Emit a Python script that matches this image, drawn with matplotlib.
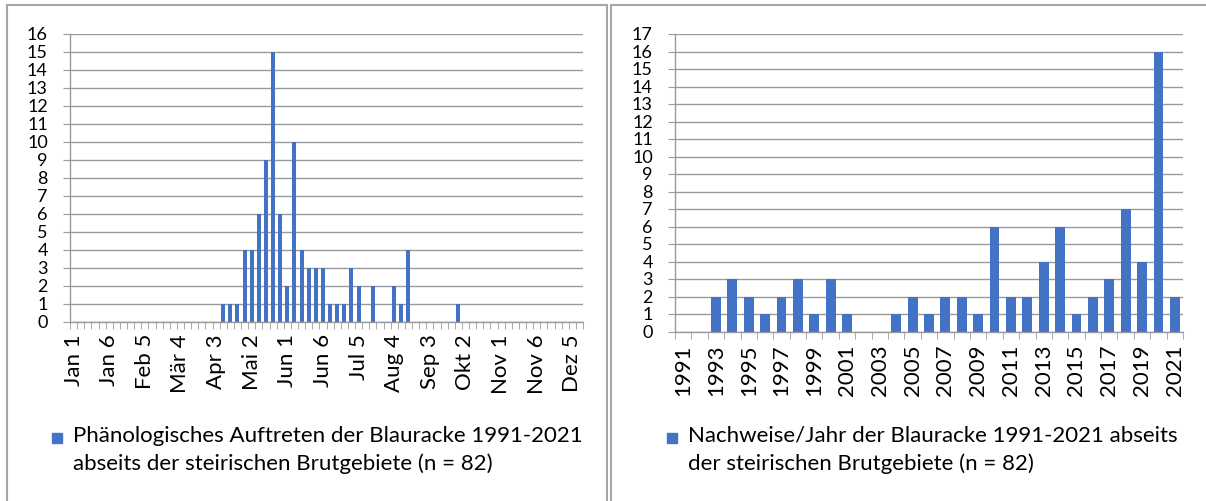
import matplotlib.pyplot as plt
from matplotlib.patches import Rectangle

plt.rcParams['font.family'] = ['Lato', 'DejaVu Sans']

# left chart: occurrences per month pentad (Jan 1 ... Dez 6)
months = ['Jan', 'Feb', 'Mär', 'Apr', 'Mai', 'Jun', 'Jul', 'Aug', 'Sep', 'Okt', 'Nov', 'Dez']
pentads = [1, 2, 3, 4, 5, 6]
pentad_labels = [f'{m} {p}' for m in months for p in pentads]
pentad_counts = [0, 0, 0, 0, 0, 0, 0, 0, 0, 0, 0, 0,
                 0, 0, 0, 0, 0, 0, 0, 0, 0, 1, 1, 1,
                 4, 4, 6, 9, 15, 6, 2, 10, 4, 3, 3, 3,
                 1, 1, 1, 3, 2, 0, 2, 0, 0, 2, 1, 4,
                 0, 0, 0, 0, 0, 0, 1, 0, 0, 0, 0, 0,
                 0, 0, 0, 0, 0, 0, 0, 0, 0, 0, 0, 0]
left_legend = 'Phänologisches Auftreten der Blauracke 1991-2021\nabseits der steirischen Brutgebiete (n = 82)'

# right chart: records per year
years = list(range(1991, 2022))
year_counts = [0, 0, 2, 3, 2, 1, 2, 3, 1, 3, 1, 0, 0, 1, 2, 1,
               2, 2, 1, 6, 2, 2, 4, 6, 1, 2, 3, 7, 4, 16, 2]
right_legend = 'Nachweise/Jahr der Blauracke 1991-2021 abseits\nder steirischen Brutgebiete (n = 82)'

bar_color = '#4472C4'
grid_color = '#9a9a9a'
fs = 16
fs_y = 13

fig = plt.figure(figsize=(12.06, 5.02), dpi=100)

# panel frames
fig.patches.append(Rectangle((7 / 1206, -0.1), 600 / 1206, 1.1 - 6 / 502, transform=fig.transFigure,
                             fill=False, edgecolor='#a6a6a6', lw=1.5))
fig.patches.append(Rectangle((611 / 1206, -0.1), 0.6, 1.1 - 6 / 502, transform=fig.transFigure,
                             fill=False, edgecolor='#a6a6a6', lw=1.5))


def style_axes(ax, n, ymax):
    ax.set_xlim(-0.5, n - 0.5)
    ax.set_ylim(0, ymax)
    ax.set_yticks(range(0, ymax + 1))
    ax.yaxis.grid(True, color=grid_color, lw=1)
    ax.set_axisbelow(True)
    for s in ['top', 'right']:
        ax.spines[s].set_visible(False)
    for s in ['left', 'bottom']:
        ax.spines[s].set_color(grid_color)
        ax.spines[s].set_linewidth(1)
    ax.tick_params(axis='y', length=5, color=grid_color, pad=11, labelsize=fs_y)
    ax.tick_params(axis='x', which='major', length=0, pad=8, labelsize=fs, rotation=90)
    ax.set_xticks([i - 0.5 for i in range(n + 1)], minor=True)
    ax.tick_params(axis='x', which='minor', length=5, color=grid_color)
    for lbl in ax.get_yticklabels():
        lbl.set_verticalalignment('center')


ax1 = fig.add_axes([70 / 1206, 179 / 502, 513 / 1206, 288 / 502])
ax1.bar(range(len(pentad_counts)), pentad_counts, width=0.57, color=bar_color)
style_axes(ax1, len(pentad_counts), 16)
ax1.set_xticks(range(0, len(pentad_labels), 5))
ax1.set_xticklabels(pentad_labels[::5], rotation=90)

ax2 = fig.add_axes([675 / 1206, 169 / 502, 508 / 1206, 298 / 502])
ax2.bar(range(len(year_counts)), year_counts, width=0.6, color=bar_color)
style_axes(ax2, len(year_counts), 17)
ax2.set_xticks(range(0, len(years), 2))
ax2.set_xticklabels([str(y) for y in years[::2]], rotation=90)

# legends
for x_sq, x_txt, txt in [(57, 73, left_legend), (672, 688, right_legend)]:
    fig.patches.append(Rectangle(((x_sq - 5) / 1206, (502 - 444) / 502), 10 / 1206, 10 / 502,
                                 transform=fig.transFigure, color=bar_color))
    fig.text(x_txt / 1206, (502 - 426) / 502, txt, fontsize=fs, va='top', ha='left',
             linespacing=1.45)

fig.savefig('out.png', dpi=100)
